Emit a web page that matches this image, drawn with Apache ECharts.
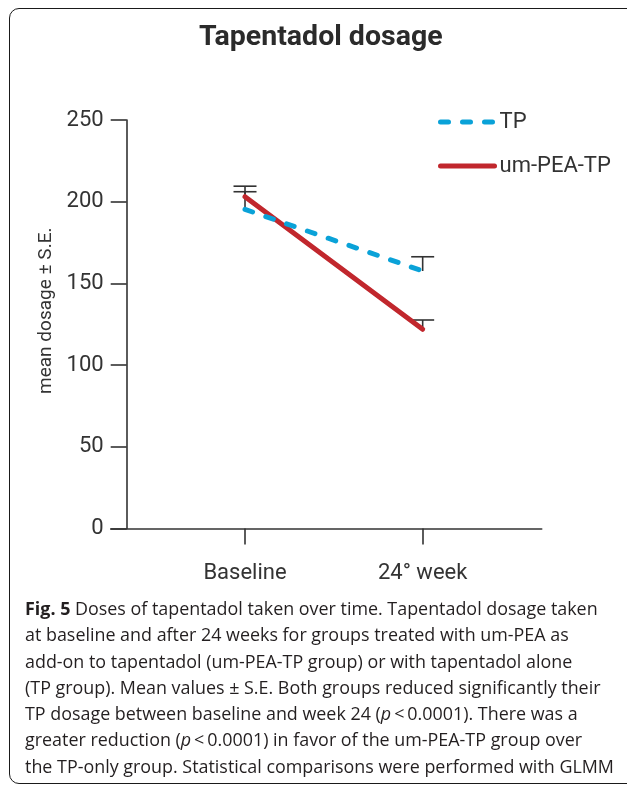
<!DOCTYPE html>
<html>
<head>
<meta charset="utf-8">
<script src="https://cdn.jsdelivr.net/npm/echarts@6/dist/echarts.min.js"></script>
<style>
  html, body { margin: 0; padding: 0; background: #fff; }
  #wrap { position: relative; width: 627px; height: 787px; overflow: hidden; }
  #frame { position: absolute; left: 9px; top: 8px; width: 640px; height: 776px;
           border: 1.6px solid #1a1a1a; border-radius: 10px; box-sizing: border-box; }
  #chart { position: absolute; left: 0; top: 0; width: 627px; height: 787px; }
  #caption { position: absolute; left: 25px; top: 595px; font-family: 'Open Sans', 'Noto Sans', sans-serif;
             font-size: 17.9px; line-height: 26.3px; color: #231f20; white-space: nowrap; }
  #caption b { font-weight: 700; }
</style>
</head>
<body>
<div id="wrap">
  <div id="frame"></div>
  <div id="chart"></div>
  <div id="caption">
    <b>Fig. 5</b> Doses of tapentadol taken over time. Tapentadol dosage taken<br>
    at baseline and after 24 weeks for groups treated with um-PEA as<br>
    add-on to tapentadol (um-PEA-TP group) or with tapentadol alone<br>
    (TP group). Mean values ± S.E. Both groups reduced significantly their<br>
    TP dosage between baseline and week 24 (<i>p</i>&thinsp;&lt;&thinsp;0.0001). There was a<br>
    greater reduction (<i>p</i>&thinsp;&lt;&thinsp;0.0001) in favor of the um-PEA-TP group over<br>
    the TP-only group. Statistical comparisons were performed with GLMM
  </div>
</div>
<script>
const categories = ['Baseline', '24° week'];
const seriesNames = ['TP', 'um-PEA-TP'];
const tpMean = [195.3, 157.6];
const tpSE = [10.8, 8.7];
const peaMean = [203.1, 121.9];
const peaSE = [6.4, 5.7];
const yTicks = [0, 50, 100, 150, 200, 250];

const FONT = "Roboto, 'Liberation Sans', sans-serif";
const BLUE = '#0aa2d8';
const RED = '#c1272d';
const INK = '#333333';

const pts = (arr) => categories.map((c, i) => [i, arr[i]]);
const errs = (m, s) => categories.map((c, i) => [i, m[i], m[i] + s[i]]);

function renderErr(params, api) {
  const x = api.value(0);
  const p0 = api.coord([x, api.value(1)]);
  const p1 = api.coord([x, api.value(2)]);
  const hw = 11.5;
  const st = { stroke: INK, lineWidth: 1.6, fill: null };
  return {
    type: 'group',
    children: [
      { type: 'line', shape: { x1: p0[0], y1: p0[1], x2: p1[0], y2: p1[1] }, style: st },
      { type: 'line', shape: { x1: p1[0] - hw, y1: p1[1], x2: p1[0] + hw, y2: p1[1] }, style: st }
    ]
  };
}

const chart = echarts.init(document.getElementById('chart'), null, { renderer: 'canvas' });
chart.setOption({
  animation: false,
  title: {
    text: 'Tapentadol dosage',
    left: 199, top: 23,
    padding: 0,
    textStyle: { fontFamily: FONT, fontSize: 28.5, fontWeight: 'bold', color: '#2b2b2b' }
  },
  legend: {
    data: seriesNames,
    orient: 'vertical',
    left: 438, top: 111,
    padding: 0,
    itemWidth: 54, itemHeight: 14, itemGap: 22,
    textStyle: { fontFamily: FONT, fontSize: 22, color: INK },
    lineStyle: { width: 5 },
    itemStyle: { opacity: 0 }
  },
  grid: { left: 110.7, right: 85.3, top: 120, bottom: 258.5, containLabel: false },
  xAxis: {
    type: 'value',
    min: -0.756, max: 1.67,
    splitLine: { show: false },
    axisLine: { show: true, onZero: false, lineStyle: { color: INK, width: 1.6 } },
    axisTick: { show: true, customValues: [0, 1], length: 16, inside: false, lineStyle: { color: INK, width: 1.6 } },
    axisLabel: {
      customValues: [0, 1],
      formatter: (v) => categories[Math.round(v)],
      margin: 34,
      fontFamily: FONT, fontSize: 22, color: INK
    }
  },
  yAxis: {
    type: 'value',
    min: 0, max: 250, interval: 50,
    offset: -16,
    name: 'mean dosage ± S.E.',
    nameLocation: 'middle',
    nameRotate: 90,
    nameGap: 60,
    nameTextStyle: { fontFamily: FONT, fontSize: 19, color: INK, padding: [0, 0, 0, 27] },
    splitLine: { show: false },
    axisLine: { show: true, onZero: false, lineStyle: { color: INK, width: 1.6 } },
    axisTick: { show: true, length: 16, inside: false, lineStyle: { color: INK, width: 1.6 } },
    axisLabel: {
      margin: 23,
      fontFamily: FONT, fontSize: 22, color: INK,
      formatter: (v) => (yTicks.indexOf(v) >= 0 ? String(v) : '')
    }
  },
  series: [
    {
      type: 'custom', name: 'errTP', renderItem: renderErr, data: errs(tpMean, tpSE),
      encode: { x: 0, y: [1, 2] }, z: 1, silent: true
    },
    {
      type: 'custom', name: 'errPEA', renderItem: renderErr, data: errs(peaMean, peaSE),
      encode: { x: 0, y: [1, 2] }, z: 1, silent: true
    },
    {
      type: 'line', name: seriesNames[0], data: pts(tpMean), symbol: 'none', z: 3,
      lineStyle: { color: BLUE, width: 5, type: [8, 14], cap: 'round' },
      itemStyle: { color: BLUE }
    },
    {
      type: 'line', name: seriesNames[1], data: pts(peaMean), symbol: 'none', z: 2,
      lineStyle: { color: RED, width: 5, type: 'solid', cap: 'round' },
      itemStyle: { color: RED }
    }
  ]
});
</script>
</body>
</html>
